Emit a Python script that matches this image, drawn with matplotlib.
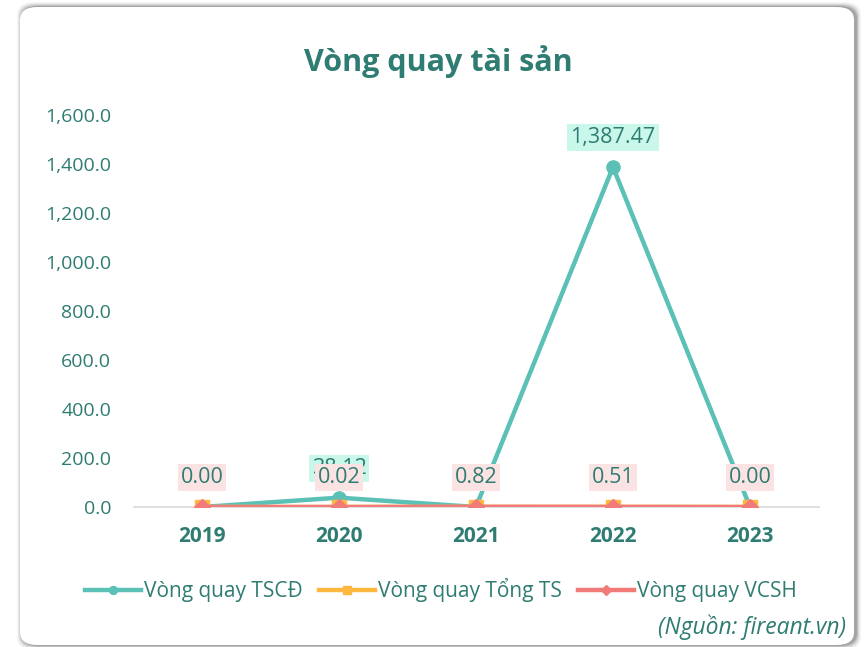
import numpy as np
import matplotlib
matplotlib.use("Agg")
import matplotlib.pyplot as plt
from matplotlib.patches import FancyBboxPatch
from matplotlib.ticker import FuncFormatter

plt.rcParams['font.family'] = ['Open Sans', 'DejaVu Sans']

# Data
years = ['2019', '2020', '2021', '2022', '2023']
tscd = [0.00, 38.12, 0.00, 1387.47, 0.00]
tong_ts = [0.00, 0.01, 0.36, 0.22, 0.00]
vcsh = [0.00, 0.02, 0.82, 0.51, 0.00]

txt_color = '#2E7C72'
c_tscd = '#5BC0B5'
c_tong = '#FFB83F'
c_vcsh = '#F17B78'

fig = plt.figure(figsize=(8.65, 6.47), dpi=100)
fig.patch.set_facecolor('white')

# card frame with soft shadow
W, H = 865, 647
for i, a in enumerate([0.05, 0.08, 0.12, 0.18, 0.25]):
    g = 5 - i
    sh = FancyBboxPatch(((20 - g + 2) / W, (2 - g) / H), (834 + 2 * g) / W, (638 + 2 * g) / H,
                        boxstyle="round,pad=0,rounding_size=0.02", transform=fig.transFigure,
                        facecolor='#555555', edgecolor='none', alpha=a, zorder=-3)
    fig.patches.append(sh)
card = FancyBboxPatch((20 / W, 2 / H), 834 / W, 638 / H,
                      boxstyle="round,pad=0,rounding_size=0.02", transform=fig.transFigure,
                      facecolor='white', edgecolor='none', zorder=-2)
fig.patches.append(card)

ax = fig.add_axes([133.5 / W, 1 - 507 / H, 685 / W, 392 / H])
ax.set_zorder(2)
ax.set_facecolor('none')
x = np.arange(len(years))

ax.plot(x, tscd, color=c_tscd, lw=3.2, marker='o', ms=9.5, zorder=3, label='Vòng quay TSCĐ')
ax.plot(x, tong_ts, color=c_tong, lw=3.2, marker='s', ms=10, zorder=4, label='Vòng quay Tổng TS')
ax.plot(x, vcsh, color=c_vcsh, lw=3.2, marker='D', ms=8, zorder=5, label='Vòng quay VCSH')

def fmt(v):
    return f"{v:,.2f}"

for vals, bg, z in [(tscd, '#C9F7EA', 6), (tong_ts, '#FFEFD0', 7), (vcsh, '#FCE3E3', 8)]:
    for xi, v in zip(x, vals):
        ax.annotate(fmt(v), (xi, v), xytext=(0, 21), textcoords='offset points',
                    ha='center', va='center', fontsize=15.5, color=txt_color, zorder=z,
                    bbox=dict(boxstyle='square,pad=0.14', fc=bg, ec='none'),
                    annotation_clip=False)

ax.set_xlim(-0.5, 4.5)
ax.set_ylim(0, 1600)
ax.set_yticks(np.arange(0, 1601, 200))
ax.yaxis.set_major_formatter(FuncFormatter(lambda v, p: f"{v:,.1f}"))
ax.set_xticks(x)
ax.set_xticklabels(years, fontweight='bold')
ax.tick_params(axis='y', length=0, labelsize=14, labelcolor=txt_color, pad=16)
ax.tick_params(axis='x', length=0, labelsize=15, labelcolor=txt_color, pad=14)
for s in ['top', 'right', 'left']:
    ax.spines[s].set_visible(False)
ax.spines['bottom'].set_color('#D9D9D9')
ax.spines['bottom'].set_linewidth(1.2)
ax.spines['bottom'].set_zorder(2)

fig.text(438 / W, 1 - 62 / H, 'Vòng quay tài sản', ha='center', va='center',
         fontsize=22, fontweight='bold', color=txt_color)

leg = fig.legend(loc='center', bbox_to_anchor=(441 / W, 1 - 590 / H), ncol=3, frameon=False,
                 fontsize=15, handlelength=2.7, handletextpad=0.15, columnspacing=0.75,
                 markerscale=0.6)
for t in leg.get_texts():
    t.set_color(txt_color)

fig.text(846 / W, 1 - 627 / H, '(Nguồn: fireant.vn)', ha='right', va='center',
         fontsize=16.5, style='italic', color=txt_color)

fig.savefig('out.png', dpi=100)
